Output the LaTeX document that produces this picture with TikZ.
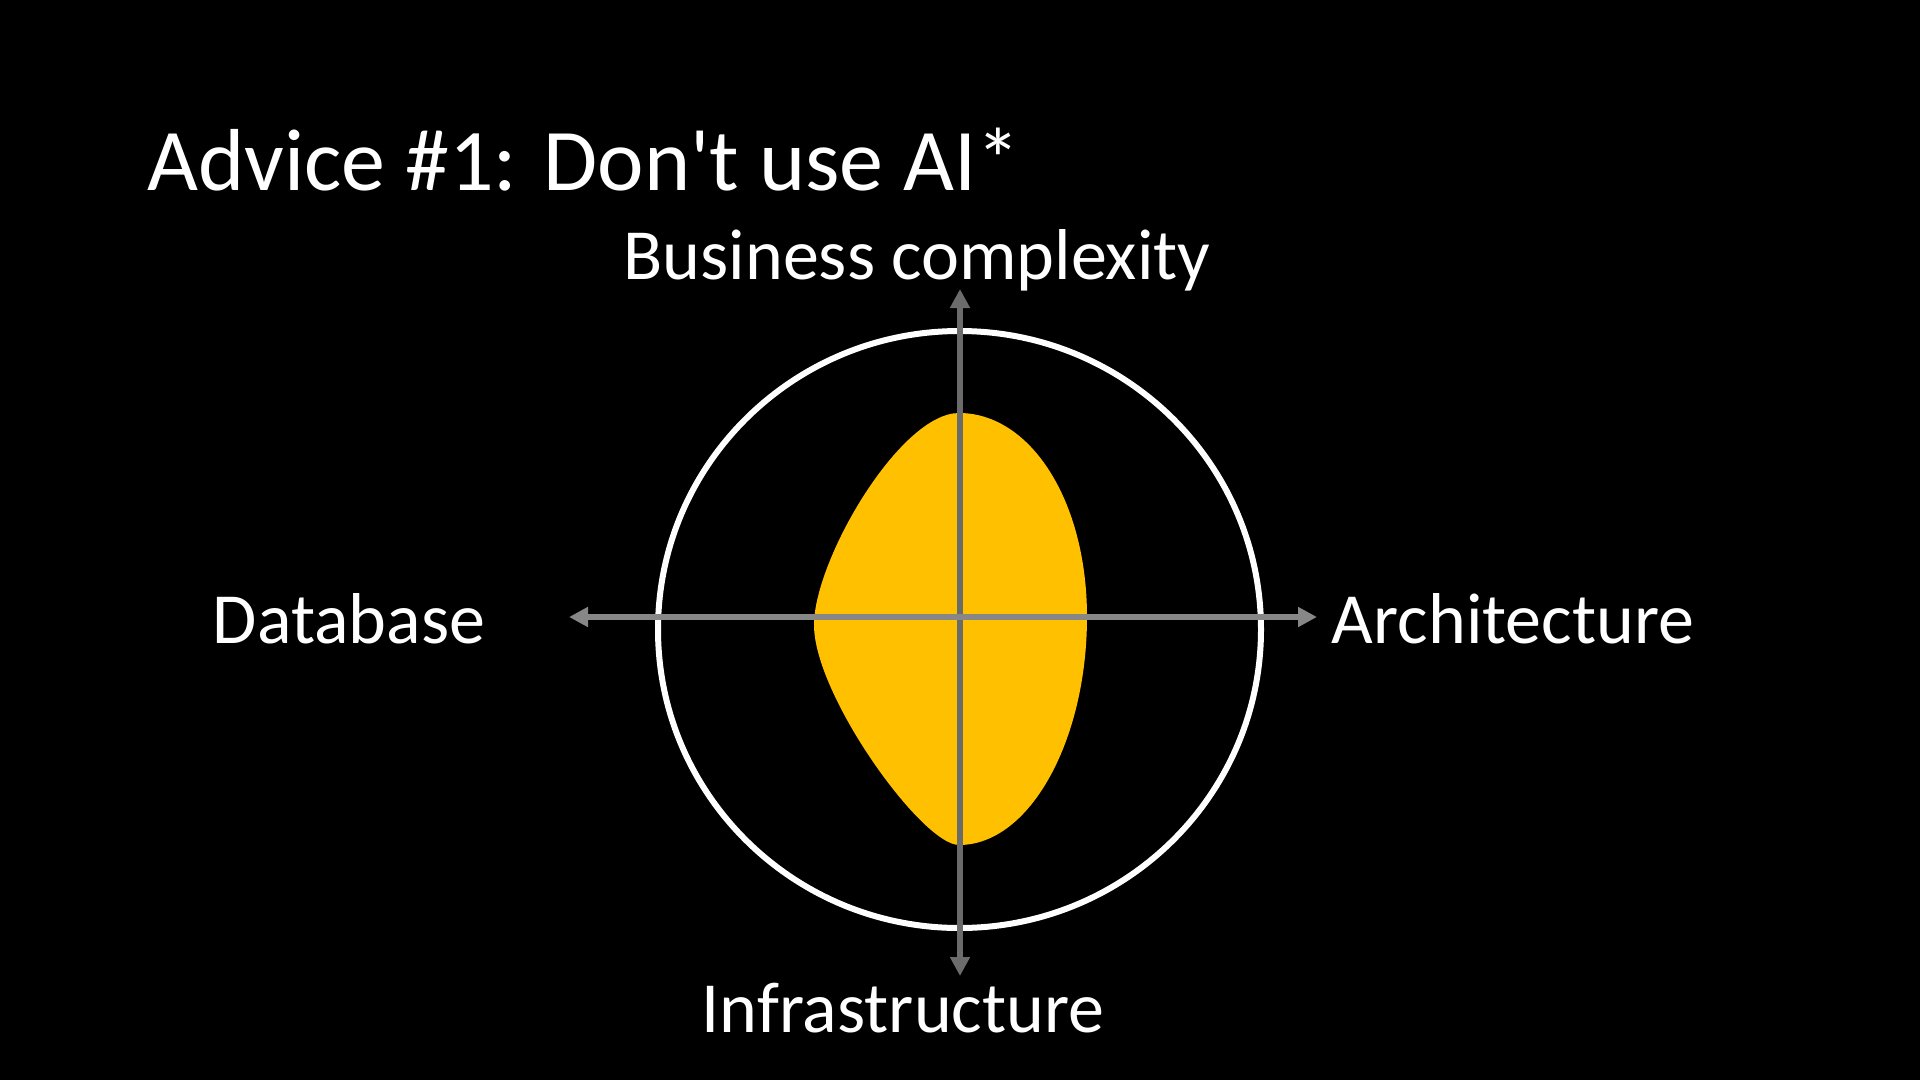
\documentclass[tikz,border=0pt]{standalone}
\usepackage{fontspec}
\setmainfont{Carlito}[Ligatures=TeXOff]
\usetikzlibrary{arrows.meta}
\definecolor{blobyellow}{HTML}{FFC000}
\definecolor{axisH}{HTML}{878787}
\definecolor{axisV}{HTML}{6B6B6B}
\tikzset{
  lbl/.style={text=white,anchor=base,inner sep=0pt,font=\fontsize{72}{86}\selectfont},
  ttl/.style={text=white,anchor=base west,inner sep=0pt,font=\fontsize{88}{106}\selectfont},
  axisline/.style={line width=6pt,{Triangle[length=19pt,width=19pt]}-{Triangle[length=19pt,width=19pt]}},
}
\begin{document}
\begin{tikzpicture}[x=1pt,y=-1pt]
\fill[black] (0,0) rectangle (1920,1080);
\useasboundingbox (0,0) rectangle (1920,1080);
\node[ttl] (title) at (147,190) {Advice \#1: Don't use AI*};
\node[lbl] (biz) at (917,279) {Business complexity};
\node[lbl] (db) at (349,643) {Database};
\node[lbl] (arch) at (1513,643) {Architecture};
\node[lbl] (infra) at (903,1032) {Infrastructure};
\coordinate (C) at (959.5,629.5);
\draw[white,line width=6pt] (C) ellipse[x radius=301.5,y radius=298.5];
\fill[blobyellow] (959,413) .. controls (1030,413) and (1087,500) .. (1087,617)
  .. controls (1087,740) and (1030,845) .. (959,845)
  .. controls (922,845) and (814,695) .. (814,625)
  .. controls (814,560) and (900,413) .. (959,413) -- cycle;
\coordinate (T) at (960,289);
\coordinate (B) at (960,976);
\coordinate (L) at (569,617);
\coordinate (R) at (1317,617);
\draw[axisline,axisV] (B) -- (T);
\draw[axisline,axisH] (L) -- (R);
\end{tikzpicture}
\end{document}
